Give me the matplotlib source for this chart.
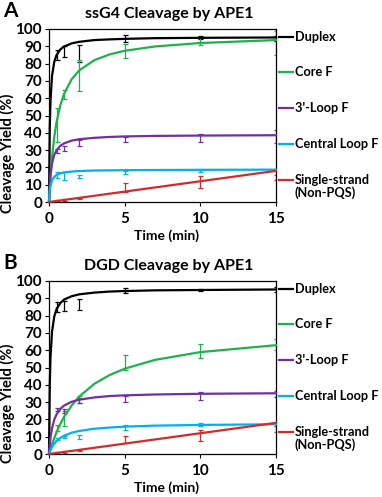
import matplotlib
matplotlib.use("Agg")
import matplotlib.pyplot as plt

plt.rcParams["font.family"] = ["Lato", "DejaVu Sans"]
plt.rcParams["font.weight"] = "bold"

# measured time points (min)
TIMES = [0.5, 1, 2, 5, 10, 15]
# time grid used to trace the fitted curves off the picture
T_FIT = [0, 0.05, 0.1, 0.2, 0.35, 0.5, 0.75, 1, 1.5, 2, 3, 4, 5, 7, 10, 15]

SERIES = ["Duplex", "Core F", "3'-Loop F", "Central Loop F", "Single-strand"]
COLORS = ["#000000", "#1db24b", "#7030a0", "#00b0f0", "#d42a2a"]
LEGEND_Y = [95.5, 75.3, 54.3, 33.8, 12.6]

# ---- panel A: ssG4 ----
a_duplex = [85.0, 87.0, 86.0, 94.5, 95.0, 94.5]
a_duplex_err = [3.0, 3.0, 5.0, 2.0, 1.0, 1.5]
a_core = [44.5, 62.0, 73.0, 87.5, 93.0, 92.0]
a_core_err = [10.0, 2.5, 9.0, 4.0, 2.0, 7.0]
a_loop3 = [29.5, 30.8, 34.2, 35.9, 36.8, 37.8]
a_loop3_err = [1.2, 1.3, 1.7, 1.4, 2.3, 3.9]
a_central = [15.6, 15.2, 14.7, 17.2, 18.0, 18.5]
a_central_err = [1.9, 2.3, 1.0, 1.0, 0.7, 0.5]
a_single = [0.6, 1.2, 2.0, 8.4, 11.5, 14.2]
a_single_err = [0.3, 0.4, 0.5, 2.4, 3.5, 1.4]

a_duplex_fit = [0, 42.6, 58.9, 72.9, 81.1, 85.0, 88.2, 89.9, 91.7, 92.6, 93.6, 94.0, 94.3, 94.7, 94.9, 95.1]
a_core_fit = [0, 8.1, 14.9, 25.9, 37.7, 46.2, 56.0, 62.6, 71.0, 76.1, 82.0, 85.3, 87.4, 89.9, 91.9, 93.6]
a_loop3_fit = [0, 9.8, 15.6, 22.3, 27.3, 30.0, 32.5, 33.9, 35.5, 36.3, 37.1, 37.6, 37.9, 38.2, 38.4, 38.6]
a_central_fit = [0, 6.3, 9.4, 12.5, 14.6, 15.7, 16.6, 17.1, 17.6, 17.9, 18.2, 18.3, 18.4, 18.5, 18.6, 18.7]
a_single_fit = [0, 0.06, 0.12, 0.24, 0.42, 0.6, 0.9, 1.2, 1.8, 2.4, 3.6, 4.8, 6.0, 8.4, 12.0, 18.0]

# ---- panel B: DGD ----
b_duplex = [85.0, 85.7, 86.6, 94.5, 95.0, 95.0]
b_duplex_err = [2.7, 3.0, 3.2, 1.5, 0.5, 1.5]
b_core = [15.0, 20.4, 31.5, 53.0, 59.5, 63.2]
b_core_err = [1.9, 4.3, 2.0, 4.5, 4.0, 3.0]
b_loop3 = [25.6, 25.0, 31.0, 31.7, 33.6, 34.7]
b_loop3_err = [1.0, 1.3, 1.3, 1.7, 2.2, 1.8]
b_central = [8.8, 9.8, 10.0, 15.5, 17.0, 17.0]
b_central_err = [0.5, 0.7, 1.2, 1.5, 1.0, 1.0]
b_single = [0.6, 1.2, 2.0, 8.3, 10.7, 14.5]
b_single_err = [0.3, 0.4, 0.5, 1.9, 3.4, 1.5]

b_duplex_fit = [0, 39.8, 56.2, 70.7, 79.6, 83.8, 87.3, 89.3, 91.2, 92.3, 93.3, 93.9, 94.2, 94.6, 94.8, 95.1]
b_core_fit = [0, 1.5, 2.9, 5.6, 9.3, 12.6, 17.4, 21.5, 28.1, 33.2, 40.6, 45.6, 49.3, 54.4, 58.9, 62.9]
b_loop3_fit = [0, 5.4, 9.4, 14.9, 19.9, 22.9, 26.1, 28.0, 30.2, 31.4, 32.7, 33.5, 33.9, 34.4, 34.8, 35.1]
b_central_fit = [0, 1.2, 2.3, 4.0, 6.0, 7.5, 9.3, 10.6, 12.3, 13.3, 14.6, 15.3, 15.8, 16.4, 16.8, 17.2]
b_single_fit = [0, 0.06, 0.12, 0.24, 0.42, 0.6, 0.9, 1.2, 1.8, 2.4, 3.6, 4.8, 6.0, 8.4, 12.0, 18.0]

W, H = 382, 497


def draw_panel(ax, points, errs, fits):
    for i in range(len(SERIES)):
        ax.errorbar(TIMES, points[i], yerr=errs[i], fmt="none", ecolor=COLORS[i],
                    elinewidth=0.9, capsize=1.8, capthick=0.9, zorder=2)
        ax.plot(T_FIT, fits[i], color=COLORS[i], lw=1.6, zorder=3, clip_on=False)
    ax.set_xlim(0, 15)
    ax.set_ylim(0, 100)
    ax.set_xticks([0, 5, 10, 15])
    ax.set_yticks(range(0, 101, 10))
    ax.tick_params(direction="out", length=3, width=0.8, labelsize=11, pad=2)
    ax.tick_params(axis="x", pad=4)
    for s in ax.spines.values():
        s.set_linewidth(0.9)
    # legend at the right, as short line + label
    for i, name in enumerate(SERIES):
        y = LEGEND_Y[i]
        ax.plot([1.013, 1.075], [y / 100, y / 100], color=COLORS[i], lw=1.6,
                transform=ax.transAxes, clip_on=False)
        ax.text(1.082, y / 100, name, transform=ax.transAxes, va="center",
                ha="left", fontsize=9.2, fontweight="bold")
    ax.text(1.082, (LEGEND_Y[-1] - 7.3) / 100, "(Non-PQS)", transform=ax.transAxes,
            va="center", ha="left", fontsize=9.2, fontweight="bold")


fig = plt.figure(figsize=(W / 100, H / 100), dpi=100)

panels = [
    ("A", "ssG4 Cleavage by APE1", 29, 202, 153,
     [a_duplex, a_core, a_loop3, a_central, a_single],
     [a_duplex_err, a_core_err, a_loop3_err, a_central_err, a_single_err],
     [a_duplex_fit, a_core_fit, a_loop3_fit, a_central_fit, a_single_fit]),
    ("B", "DGD Cleavage by APE1", 281, 454, 403,
     [b_duplex, b_core, b_loop3, b_central, b_single],
     [b_duplex_err, b_core_err, b_loop3_err, b_central_err, b_single_err],
     [b_duplex_fit, b_core_fit, b_loop3_fit, b_central_fit, b_single_fit]),
]

left, right = 49, 276
for letter, title, top, bottom, ylab_y, pts, errs, fits in panels:
    ax = fig.add_axes([left / W, 1 - bottom / H, (right - left) / W, (bottom - top) / H])
    draw_panel(ax, pts, errs, fits)
    fig.text(3 / W, 1 - (top - 18) / H, letter, fontsize=15, fontweight="bold",
             ha="left", va="center")
    fig.text(169 / W, 1 - (top - 15) / H, title, fontsize=11.5, fontweight="bold",
             ha="center", va="center")
    fig.text(7 / W, 1 - ylab_y / H, "Cleavage Yield (%)", rotation=90, fontsize=10.5,
             fontweight="bold", ha="center", va="center")
    fig.text(167 / W, 1 - (bottom + 34) / H, "Time (min)", fontsize=10,
             fontweight="bold", ha="center", va="center")

fig.savefig("out.png", dpi=100)
